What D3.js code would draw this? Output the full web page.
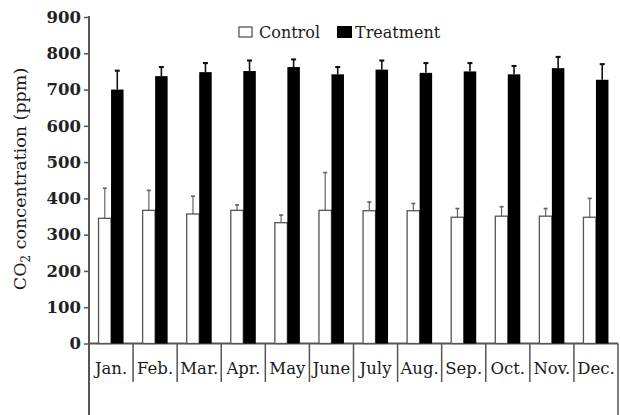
<!DOCTYPE html>
<html>
<head>
<meta charset="utf-8">
<script src="https://cdn.jsdelivr.net/npm/d3@7"></script>
<style>
  body { margin: 0; background: #fff; }
  svg { display: block; font-family: 'DejaVu Serif', serif; }
</style>
</head>
<body>
<svg id="chart" width="620" height="415"></svg>
<script>
let months = ['Jan.', 'Feb.', 'Mar.', 'Apr.', 'May', 'June', 'July', 'Aug.', 'Sep.', 'Oct.', 'Nov.', 'Dec.']
let control = [345, 367, 357, 367, 333, 367, 366, 366, 348, 351, 351, 348]
let controlErr = [83, 55, 49, 15, 21, 104, 24, 20, 24, 26, 21, 52]
let treatment = [700, 737, 748, 751, 762, 742, 755, 746, 750, 742, 759, 727]
let treatmentErr = [52, 25, 25, 29, 21, 20, 25, 27, 23, 23, 31, 43]
let yTicks = [0, 100, 200, 300, 400, 500, 600, 700, 800, 900]

let chart = d3.select('#chart')
let plotLeft = 89
let plotRight = 618
let plotTop = 17
let baseY = 343.5
let labelRowBottom = 382
let axisColor = '#555'

let xScale = d3.scaleBand()
    .domain(months)
    .range([plotLeft, plotRight])
let barWidth = 12.5

let yScale = d3.scaleLinear()
    .domain([0, 900])
    .range([baseY, plotTop])

// y axis
let yAxis = chart.append('g')
    .attr('transform', 'translate(' + plotLeft + ',0)')
    .call(d3.axisLeft(yScale).tickValues(yTicks).tickSize(5).tickPadding(3))
yAxis.select('.domain').remove()
yAxis.selectAll('.tick line').attr('stroke', axisColor).attr('stroke-width', 1.5)
yAxis.selectAll('.tick text')
    .attr('fill', '#222')
    .style('font-size', '16.5px')
    .style('font-family', 'DejaVu Serif, serif')
    .style('font-weight', 'bold')

chart.append('line')
    .attr('x1', plotLeft).attr('x2', plotLeft)
    .attr('y1', yScale(900) - 1).attr('y2', 415)
    .attr('stroke', axisColor).attr('stroke-width', 2)

// x axis as a table of month cells
chart.append('line')
    .attr('x1', plotLeft).attr('x2', plotRight)
    .attr('y1', baseY).attr('y2', baseY)
    .attr('stroke', axisColor).attr('stroke-width', 2)

chart.append('g')
    .selectAll('line')
    .data(months.slice(1))
    .enter()
    .append('line')
    .attr('x1', (d) => xScale(d)).attr('x2', (d) => xScale(d))
    .attr('y1', baseY).attr('y2', labelRowBottom)
    .attr('stroke', axisColor).attr('stroke-width', 1.5)

chart.append('line')
    .attr('x1', plotRight).attr('x2', plotRight)
    .attr('y1', baseY).attr('y2', 415)
    .attr('stroke', axisColor).attr('stroke-width', 1.5)

chart.append('g')
    .selectAll('text')
    .data(months)
    .enter()
    .append('text')
    .attr('x', (d) => xScale(d) + xScale.bandwidth() / 2)
    .attr('y', 374)
    .attr('text-anchor', 'middle')
    .attr('fill', '#1a1a1a')
    .style('font-size', '16.5px')
    .text((d) => d)

// bars + error bars
let groups = chart.append('g')
    .selectAll('g')
    .data(months)
    .enter()
    .append('g')
    .attr('class', 'month')

function errorBar(sel, xFn, valArr, errArr, color, width, cap) {
    sel.append('line')
        .attr('x1', xFn).attr('x2', xFn)
        .attr('y1', (d, i) => yScale(valArr[i]))
        .attr('y2', (d, i) => yScale(valArr[i] + errArr[i]))
        .attr('stroke', color).attr('stroke-width', width)
    sel.append('line')
        .attr('x1', (d, i) => xFn(d, i) - cap).attr('x2', (d, i) => xFn(d, i) + cap)
        .attr('y1', (d, i) => yScale(valArr[i] + errArr[i]))
        .attr('y2', (d, i) => yScale(valArr[i] + errArr[i]))
        .attr('stroke', color).attr('stroke-width', width + 0.5)
}

let mid = (d) => xScale(d) + xScale.bandwidth() / 2

errorBar(groups, (d) => mid(d) - barWidth / 2, control, controlErr, '#666', 1.2, 2)
errorBar(groups, (d) => mid(d) + barWidth / 2, treatment, treatmentErr, '#111', 1.6, 2.5)

groups.append('rect')
    .attr('x', (d) => mid(d) - barWidth)
    .attr('y', (d, i) => yScale(control[i]))
    .attr('width', barWidth)
    .attr('height', (d, i) => baseY - yScale(control[i]))
    .attr('fill', '#fff')
    .attr('stroke', '#555')
    .attr('stroke-width', 1.3)

groups.append('rect')
    .attr('x', (d) => mid(d))
    .attr('y', (d, i) => yScale(treatment[i]))
    .attr('width', barWidth)
    .attr('height', (d, i) => baseY - yScale(treatment[i]))
    .attr('fill', '#000')

// y axis title
let yTitle = chart.append('text')
    .attr('transform', 'translate(26,179) rotate(-90)')
    .attr('text-anchor', 'middle')
    .attr('fill', '#1a1a1a')
    .style('font-size', '17.5px')
yTitle.append('tspan').text('CO')
yTitle.append('tspan').attr('dy', 4).style('font-size', '12px').text('2')
yTitle.append('tspan').attr('dy', -4).text(' concentration (ppm)')

// legend
let legend = chart.append('g')
legend.append('rect')
    .attr('x', 239).attr('y', 27).attr('width', 13).attr('height', 10)
    .attr('fill', '#fff').attr('stroke', '#555').attr('stroke-width', 1.3)
legend.append('text')
    .attr('x', 259).attr('y', 38)
    .attr('fill', '#1a1a1a')
    .style('font-size', '16px')
    .text('Control')
legend.append('rect')
    .attr('x', 337).attr('y', 26).attr('width', 15).attr('height', 12)
    .attr('fill', '#000')
legend.append('text')
    .attr('x', 355).attr('y', 38)
    .attr('fill', '#1a1a1a')
    .style('font-size', '16px')
    .text('Treatment')
</script>
</body>
</html>
